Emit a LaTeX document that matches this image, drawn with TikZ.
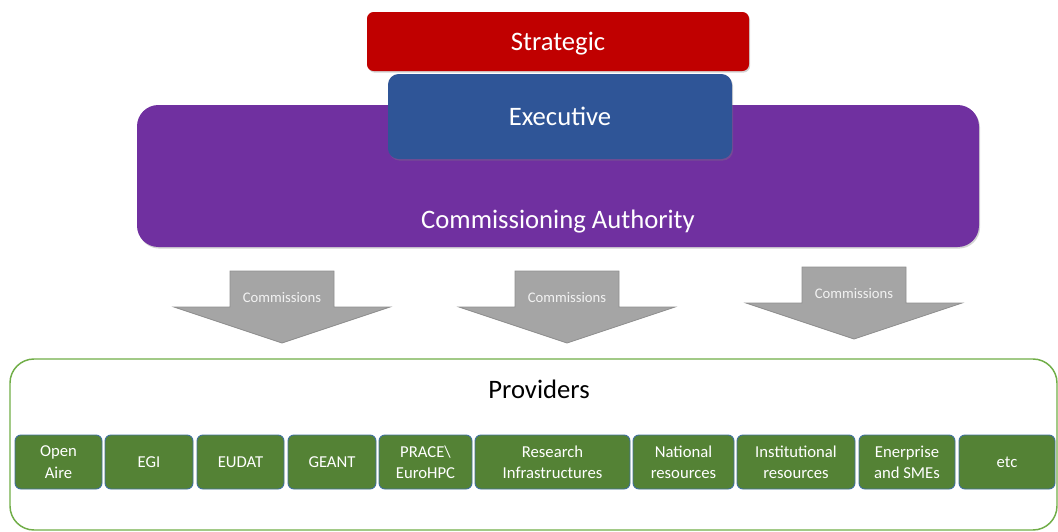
\documentclass[tikz,border=0pt]{standalone}
\usepackage{fontspec}
\setmainfont{Carlito}
\usetikzlibrary{shadows}
\definecolor{stratred}{HTML}{C00000}
\definecolor{execblue}{HTML}{2F5597}
\definecolor{authpurple}{HTML}{7030A0}
\definecolor{provgreen}{HTML}{548235}
\definecolor{provedge}{HTML}{41719C}
\definecolor{framegreen}{HTML}{70AD47}
\definecolor{arrowgray}{HTML}{A5A5A5}
\definecolor{arrowedge}{HTML}{8F8F8F}
\tikzset{
  tier/.style={rounded corners=#1, inner sep=0pt, text=white,
    font=\fontsize{20}{24}\selectfont, text height=13pt, text depth=0pt,
    drop shadow={shadow xshift=0.8pt, shadow yshift=-1.2pt, opacity=0.35}},
  bigtext/.style={text=white, font=\fontsize{20}{24}\selectfont, anchor=base, inner sep=0pt},
  provbox/.style={draw=provedge, fill=provgreen, line width=0.7pt, rounded corners=4.5pt,
    inner sep=0pt, minimum height=40.5pt, text=white, align=center,
    font=\fontsize{12.5}{16}\selectfont},
  commarrow/.style={fill=arrowgray, draw=arrowedge, line width=0.6pt},
  commlabel/.style={text=white!95!black, font=\fontsize{11}{13}\selectfont, inner sep=0pt}
}
\def\commissionarrow(#1,#2)#3{\draw[commarrow] (#1,#2) ++(-52,0) -- ++(104,0) -- ++(0,36) -- ++(56,0) -- ++(-108,36) -- ++(-108,-36) -- ++(56,0) -- cycle;
  \node[commlabel] (#3) at (#1,#2+27) {Commissions};}

\begin{document}
\begin{tikzpicture}[x=0.75pt, y=-0.75pt]
			%%%%% START %%%%%
			\useasboundingbox (0,0) rectangle (1058,532);
			
			\node[tier=16pt, fill=authpurple, minimum width=631.5pt, minimum height=106.5pt] (authority) at (558,176) {};
			\node[bigtext] (authoritytext) at (558,228) {Commissioning Authority};
			
			\node[tier=8pt, fill=execblue, minimum width=258pt, minimum height=63.75pt] (executive) at (560,116.5) {Executive};
			\node[tier=5pt, fill=stratred, minimum width=286.5pt, minimum height=44.25pt] (strategic) at (558,41.5) {Strategic};
			
			\commissionarrow(282,271){commleft}
			\commissionarrow(567,271){commmid}
			\commissionarrow(854,267){commright}
			
			\node[draw=framegreen, line width=1.1pt, rounded corners=18pt, minimum width=785.25pt, minimum height=128.25pt] (providers) at (533.5,444.5) {};
			\node[bigtext, text=black] (providerstext) at (539,398) {Providers};
			
			\node[provbox, minimum width=65.25pt] (openaire) at (58.5,462) {Open\\Aire};
			\node[provbox, minimum width=66pt] (egi) at (149,462) {EGI};
			\node[provbox, minimum width=65.25pt] (eudat) at (240.5,462) {EUDAT};
			\node[provbox, minimum width=66pt] (geant) at (332,462) {GEANT};
			\node[provbox, minimum width=69.75pt] (prace) at (425.5,462) {PRACE\textbackslash\\EuroHPC};
			\node[provbox, minimum width=116.25pt] (research) at (552.5,462) {Research\\Infrastructures};
			\node[provbox, minimum width=75.75pt] (national) at (683.5,462) {National\\resources};
			\node[provbox, minimum width=88.5pt] (institutional) at (796,462) {Institutional\\resources};
			\node[provbox, minimum width=72pt] (enterprise) at (907,462) {Enerprise\\and SMEs};
			\node[provbox, minimum width=72pt] (etc) at (1007,462) {etc};
			
			%%%%% END %%%%%
\end{tikzpicture}
\end{document}
